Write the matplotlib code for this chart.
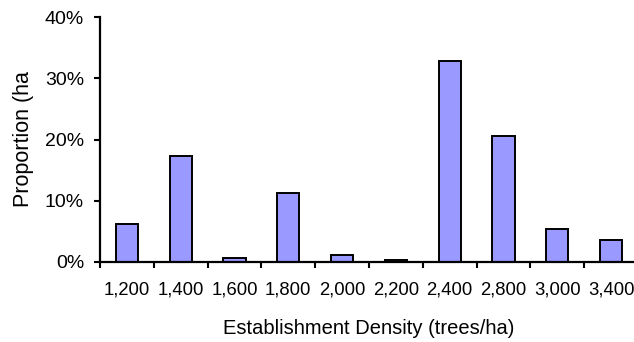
import matplotlib.pyplot as plt
import numpy as np
from matplotlib.ticker import FuncFormatter, FixedLocator

plt.rcParams['font.family'] = ['Liberation Sans', 'DejaVu Sans']

densities = ["1,200", "1,400", "1,600", "1,800", "2,000",
             "2,200", "2,400", "2,800", "3,000", "3,400"]
proportions = [6.1, 17.25, 0.55, 11.3, 1.15, 0.25, 32.9, 20.5, 5.4, 3.5]


def main():
    fig = plt.figure(figsize=(6.34, 3.42), dpi=100)
    # the plot area runs a little past the right edge of the figure
    ax = fig.add_axes([0.1577, 0.2348, 0.8486, 0.7146])

    x = np.arange(len(densities))
    ax.bar(x, np.array(proportions) / 100.0, width=0.41,
           color="#9999FF", edgecolor="black", linewidth=1.4)

    ax.set_xlim(-0.5, len(densities) - 0.5)
    ax.set_ylim(0, 0.4)

    # ticks sit between categories, labels at the bar centres
    ax.xaxis.set_major_locator(FixedLocator(np.arange(len(densities) + 1) - 0.5))
    ax.xaxis.set_major_formatter(FuncFormatter(lambda v, p: ""))
    ax.xaxis.set_minor_locator(FixedLocator(x))
    ax.set_xticklabels(densities, minor=True)
    ax.tick_params(axis="x", which="major", direction="out", length=4.5, width=1.5)
    ax.tick_params(axis="x", which="minor", length=0, pad=14, labelsize=13.3)

    ax.set_yticks([0, 0.1, 0.2, 0.3, 0.4])
    ax.yaxis.set_major_formatter(FuncFormatter(lambda v, p: f"{v * 100:.0f}%"))
    ax.tick_params(axis="y", direction="out", length=4.5, width=1.5, labelsize=14, pad=7)

    for side in ("top", "right"):
        ax.spines[side].set_visible(False)
    for side in ("left", "bottom"):
        ax.spines[side].set_linewidth(1.6)

    ax.set_xlabel("Establishment Density (trees/ha)", fontsize=14.5, labelpad=15)
    ax.set_ylabel("Proportion (ha", fontsize=15.5, labelpad=8)

    fig.savefig("out.png", dpi=100)


if __name__ == "__main__":
    main()
